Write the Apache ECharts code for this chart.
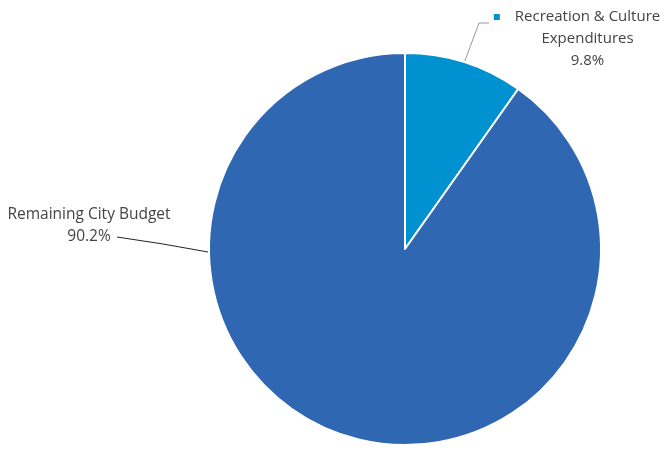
<!DOCTYPE html>
<html><head><meta charset="utf-8">
<script src="https://cdn.jsdelivr.net/npm/echarts@6/dist/echarts.min.js"></script>
<style>html,body{margin:0;padding:0;background:#fff}#c{width:670px;height:455px}</style>
</head><body><div id="c"></div>
<script>
var categories = ['Recreation & Culture Expenditures', 'Remaining City Budget'];
var values = [9.8, 90.2];
var colors = ['#0092D0', '#2F67B2'];

var chart = echarts.init(document.getElementById('c'), null, {renderer: 'canvas'});
var font = '"Open Sans", "Noto Sans", sans-serif';
chart.setOption({
  animation: false,
  series: [{
    type: 'pie',
    center: [405, 249],
    radius: 196,
    startAngle: 90,
    clockwise: true,
    itemStyle: {borderColor: '#fff', borderWidth: 2},
    data: categories.map(function (c, i) {
      return {name: c, value: values[i], itemStyle: {color: colors[i]},
        labelLine: {lineStyle: {color: i === 0 ? '#999' : '#222', width: 1}}};
    }),
    label: {
      show: true,
      position: 'outside',
      fontFamily: font,
      fontSize: 15.5,
      color: '#444',
      lineHeight: 22,
      align: 'center',
      formatter: function (p) {
        if (p.dataIndex === 0) {
          return '{sq|}{sp|}{s|Recreation & Culture}\n{lp|}{s|Expenditures}\n{lp|}{s|' + p.value.toFixed(1) + '%}';
        }
        return '{t|' + p.name + '}\n{t|' + p.value.toFixed(1) + '%}';
      },
      rich: {
        t: {fontFamily: font, fontSize: 15.5, color: '#444', lineHeight: 22},
        s: {fontFamily: font, fontSize: 15, color: '#444', lineHeight: 21.5},
        sq: {backgroundColor: '#0092D0', width: 6, height: 6},
        sp: {width: 15},
        lp: {width: 21}
      }
    },
    labelLine: {show: true, length: 20, length2: 10, lineStyle: {width: 1}},
    labelLayout: function (p) {
      if (p.dataIndex === 0) {
        var s = p.labelLinePoints ? p.labelLinePoints[0] : [464, 62];
        return {
          x: 577, y: 39, align: 'center', verticalAlign: 'middle',
          labelLinePoints: [s, [479, 23], [489, 23]]
        };
      }
      return {
        x: 89, y: 226, align: 'center', verticalAlign: 'middle',
        labelLinePoints: [[208, 252], [163, 244], [117, 237]]
      };
    },
    emphasis: {disabled: true}
  }]
});
</script>
</body></html>
